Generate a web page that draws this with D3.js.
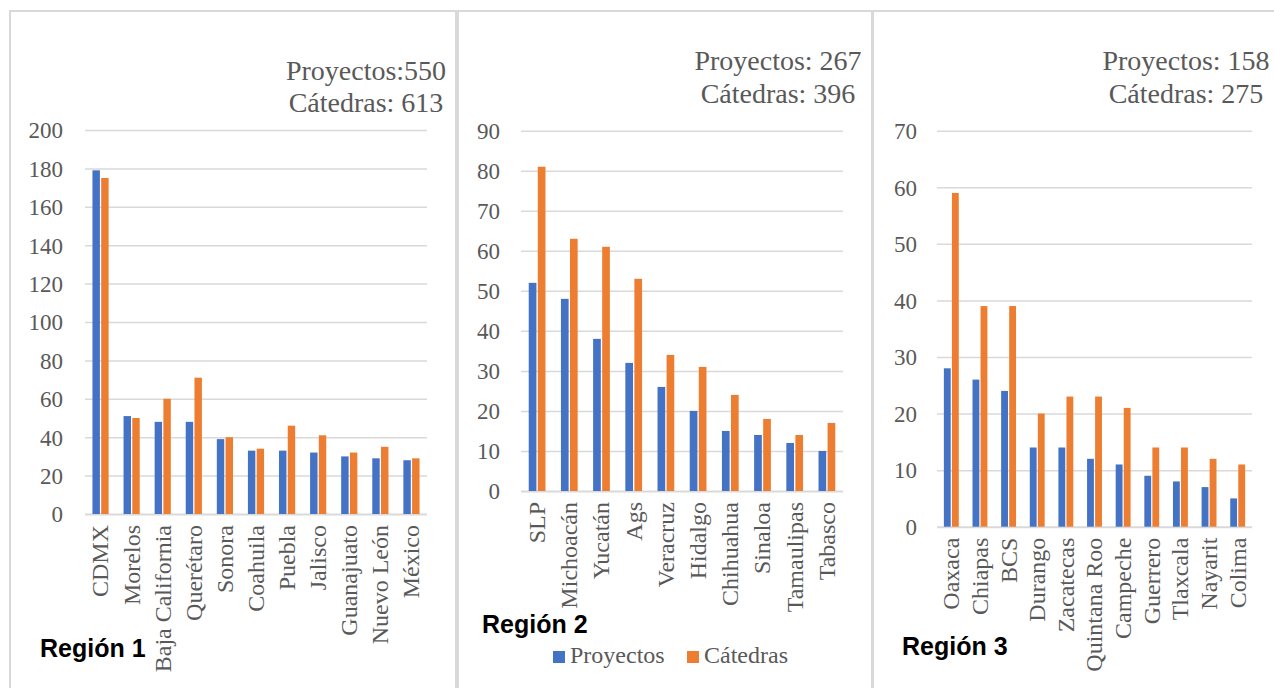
<!DOCTYPE html>
<html>
<head>
<meta charset="utf-8">
<script src="https://cdn.jsdelivr.net/npm/d3@7"></script>
<style>
  html, body { margin: 0; padding: 0; background: #fff; }
  svg { display: block; }
</style>
</head>
<body>
<svg id="chart" width="1274" height="688"></svg>
<script>
// Región 1
const region1Categories = ["CDMX", "Morelos", "Baja California", "Querétaro", "Sonora", "Coahuila", "Puebla", "Jalisco", "Guanajuato", "Nuevo León", "México"];
const region1Proyectos = [179, 51, 48, 48, 39, 33, 33, 32, 30, 29, 28];
const region1Catedras  = [175, 50, 60, 71, 40, 34, 46, 41, 32, 35, 29];
const region1Ticks = [0, 20, 40, 60, 80, 100, 120, 140, 160, 180, 200];

// Región 2
const region2Categories = ["SLP", "Michoacán", "Yucatán", "Ags", "Veracruz", "Hidalgo", "Chihuahua", "Sinaloa", "Tamaulipas", "Tabasco"];
const region2Proyectos = [52, 48, 38, 32, 26, 20, 15, 14, 12, 10];
const region2Catedras  = [81, 63, 61, 53, 34, 31, 24, 18, 14, 17];
const region2Ticks = [0, 10, 20, 30, 40, 50, 60, 70, 80, 90];

// Región 3
const region3Categories = ["Oaxaca", "Chiapas", "BCS", "Durango", "Zacatecas", "Quintana Roo", "Campeche", "Guerrero", "Tlaxcala", "Nayarit", "Colima"];
const region3Proyectos = [28, 26, 24, 14, 14, 12, 11, 9, 8, 7, 5];
const region3Catedras  = [59, 39, 39, 20, 23, 23, 21, 14, 14, 12, 11];
const region3Ticks = [0, 10, 20, 30, 40, 50, 60, 70];

const seriesNames = ["Proyectos", "Cátedras"];
const colors = { "Proyectos": "#4472C4", "Cátedras": "#ED7D31" };

const serif = "'Liberation Serif', 'Times New Roman', serif";
const sans = "'Liberation Sans', Arial, sans-serif";
const textGray = "#595959";

const svg = d3.select("#chart");
svg.append("rect").attr("width", 1274).attr("height", 688).attr("fill", "#fff");

const panels = [
  {
    title: "Región 1", cats: region1Categories, p: region1Proyectos, c: region1Catedras, ticks: region1Ticks,
    box: [10, 11, 446, 700], plot: { x0: 85, x1: 427, top: 130, bottom: 514 },
    tickRight: 63, note: { cx: 366, y1: 80, y2: 112, l1: "Proyectos:550", l2: "Cátedras: 613" },
    titlePos: [40, 657]
  },
  {
    title: "Región 2", cats: region2Categories, p: region2Proyectos, c: region2Catedras, ticks: region2Ticks,
    box: [458, 11, 414, 700], plot: { x0: 521, x1: 843, top: 130.7, bottom: 491 },
    tickRight: 500, note: { cx: 778, y1: 70, y2: 103, l1: "Proyectos: 267", l2: "Cátedras: 396" },
    titlePos: [482, 633], legend: true
  },
  {
    title: "Región 3", cats: region3Categories, p: region3Proyectos, c: region3Catedras, ticks: region3Ticks,
    box: [873, 11, 420, 700], plot: { x0: 937, x1: 1252, top: 130.7, bottom: 526.7 },
    tickRight: 917, note: { cx: 1186, y1: 70, y2: 103, l1: "Proyectos: 158", l2: "Cátedras: 275" },
    titlePos: [902, 655]
  }
];

panels.forEach(cfg => {
  const g = svg.append("g");

  // panel frame
  g.append("rect")
    .attr("x", cfg.box[0]).attr("y", cfg.box[1])
    .attr("width", cfg.box[2]).attr("height", cfg.box[3])
    .attr("fill", "#fff").attr("stroke", "#d9d9d9").attr("stroke-width", 2);

  const yMax = d3.max(cfg.ticks);
  const y = d3.scaleLinear().domain([0, yMax]).range([cfg.plot.bottom, cfg.plot.top]);
  const x = d3.scaleBand().domain(cfg.cats).range([cfg.plot.x0, cfg.plot.x1]).paddingInner(0).paddingOuter(0);
  const groupW = x.bandwidth() * 0.52;
  const x1 = d3.scaleBand().domain(seriesNames).range([0, groupW]).paddingInner(0.15);

  // gridlines
  const grid = g.append("g")
    .attr("transform", `translate(${cfg.plot.x0},0)`)
    .call(d3.axisLeft(y).tickValues(cfg.ticks).tickSize(-(cfg.plot.x1 - cfg.plot.x0)).tickFormat(""));
  grid.select(".domain").remove();
  grid.selectAll(".tick text").remove();
  grid.selectAll(".tick line")
    .attr("stroke", "#d9d9d9")
    .attr("stroke-width", d => d === 0 ? 2 : 1.5);

  // tick labels
  const yAxis = g.append("g")
    .attr("transform", `translate(${cfg.tickRight},0)`)
    .call(d3.axisLeft(y).tickValues(cfg.ticks).tickSize(0).tickPadding(0));
  yAxis.attr("font-family", null).attr("font-size", null);
  yAxis.select(".domain").remove();
  yAxis.selectAll("text")
    .style("font-family", serif).style("font-size", "23px").attr("fill", textGray)
    .attr("dy", "0.34em");

  // bars
  const rows = cfg.cats.map((cat, i) => ({ cat, values: [
    { key: "Proyectos", value: cfg.p[i] },
    { key: "Cátedras", value: cfg.c[i] }
  ]}));
  const grp = g.selectAll(".grp").data(rows).join("g")
    .attr("transform", d => `translate(${x(d.cat) + (x.bandwidth() - groupW) / 2},0)`);
  grp.selectAll("rect").data(d => d.values).join("rect")
    .attr("x", d => x1(d.key))
    .attr("width", x1.bandwidth())
    .attr("y", d => y(d.value))
    .attr("height", d => y(0) - y(d.value))
    .attr("fill", d => colors[d.key]);

  // category labels
  const xAxis = g.append("g")
    .attr("transform", `translate(0,${cfg.plot.bottom})`)
    .call(d3.axisBottom(x).tickSize(0).tickPadding(0));
  xAxis.attr("font-family", null).attr("font-size", null);
  xAxis.select(".domain").remove();
  xAxis.selectAll("text")
    .style("font-family", serif).style("font-size", "24px").attr("fill", textGray)
    .attr("text-anchor", "end")
    .attr("transform", "translate(0,11) rotate(-90)")
    .attr("x", 0).attr("y", 0).attr("dy", "0.33em");

  // totals note
  g.append("text").attr("x", cfg.note.cx).attr("y", cfg.note.y1)
    .attr("text-anchor", "middle").style("font-family", serif).style("font-size", "28px")
    .attr("fill", textGray).text(cfg.note.l1);
  g.append("text").attr("x", cfg.note.cx).attr("y", cfg.note.y2)
    .attr("text-anchor", "middle").style("font-family", serif).style("font-size", "28px")
    .attr("fill", textGray).text(cfg.note.l2);

  // region title
  g.append("text").attr("x", cfg.titlePos[0]).attr("y", cfg.titlePos[1])
    .style("font-family", sans).style("font-weight", "bold").style("font-size", "25px")
    .attr("fill", "#000").text(cfg.title);

  if (cfg.legend) {
    const legend = g.append("g");
    const items = [{ key: "Proyectos", x: 553 }, { key: "Cátedras", x: 687 }];
    items.forEach(it => {
      legend.append("rect").attr("x", it.x).attr("y", 651).attr("width", 12).attr("height", 12)
        .attr("fill", colors[it.key]);
      legend.append("text").attr("x", it.x + 17).attr("y", 663)
        .style("font-family", serif).style("font-size", "24px").attr("fill", textGray).text(it.key);
    });
  }
});
</script>
</body>
</html>
